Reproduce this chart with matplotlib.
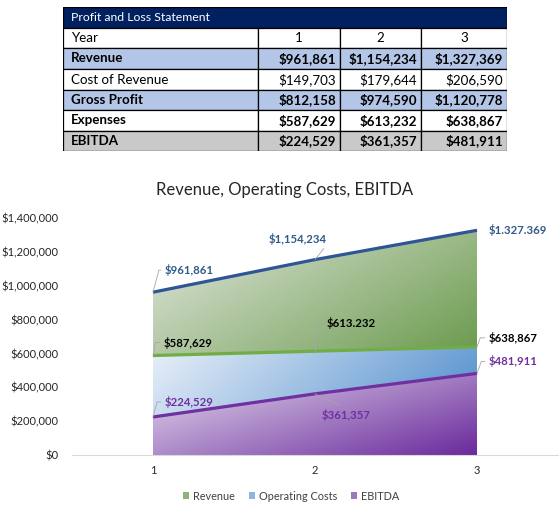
import numpy as np
import matplotlib
matplotlib.use("Agg")
import matplotlib.pyplot as plt
from matplotlib.patches import Rectangle, PathPatch, Patch
from matplotlib.colors import LinearSegmentedColormap
from matplotlib.ticker import FuncFormatter

plt.rcParams['font.family'] = ['Lato', 'DejaVu Sans']

# data
years = ["1", "2", "3"]
revenue = [961861, 1154234, 1327369]
cost_of_revenue = [149703, 179644, 206590]
gross_profit = [812158, 974590, 1120778]
expenses = [587629, 613232, 638867]
ebitda = [224529, 361357, 481911]

row_names = ["Revenue", "Cost of Revenue", "Gross Profit", "Expenses", "EBITDA"]
row_values = [revenue, cost_of_revenue, gross_profit, expenses, ebitda]
row_bold = [True, False, True, True, True]
row_fill = ["#b4c6e7", "white", "#b4c6e7", "white", "#c9c9c9"]

# labels as shown on the chart
rev_labels = ["$961,861", "$1,154,234", "$1.327.369"]
exp_labels = ["$587,629", "$613.232", "$638,867"]
ebitda_labels = ["$224,529", "$361,357", "$481,911"]

W, H = 559, 515
fig = plt.figure(figsize=(W / 100, H / 100), dpi=100)

# ---------- table ----------
tax = fig.add_axes([63 / W, (H - 151) / H, 444 / W, 144 / H])
tax.set_xlim(0, 444)
tax.set_ylim(144, 0)
tax.axis("off")
col_x = [0, 195, 277, 358, 444]
row_y = [0, 21, 41, 62, 83, 103, 124, 144]
fs = 9.6

tax.add_patch(Rectangle((0, 0), 444, 21, facecolor="#002060", edgecolor="black", lw=0.9))
tax.text(8, 10.5, "Profit and Loss Statement", color="white", fontsize=8.8, va="center")

def cell_row(r, texts, fill, bold):
    y0, y1 = row_y[r], row_y[r + 1]
    for c in range(4):
        x0, x1 = col_x[c], col_x[c + 1]
        tax.add_patch(Rectangle((x0, y0), x1 - x0, y1 - y0, facecolor=fill,
                                edgecolor="black", lw=0.9))
        if c == 0:
            tax.text(x0 + 8, (y0 + y1) / 2, texts[c], fontsize=fs, va="center",
                     fontweight="bold" if bold else "normal")
        else:
            tax.text(x1 - 4, (y0 + y1) / 2, texts[c], fontsize=fs, va="center", ha="right",
                     fontweight="bold" if bold else "normal")

# year row with centered numbers
y0, y1 = row_y[1], row_y[2]
for c in range(4):
    x0, x1 = col_x[c], col_x[c + 1]
    tax.add_patch(Rectangle((x0, y0), x1 - x0, y1 - y0, facecolor="white", edgecolor="black", lw=0.9))
tax.text(8, (y0 + y1) / 2, "Year", fontsize=fs, va="center")
for c, yr in enumerate(years):
    tax.text((col_x[c + 1] + col_x[c + 2]) / 2, (y0 + y1) / 2, yr, fontsize=fs, va="center", ha="center")

for i, name in enumerate(row_names):
    cell_row(i + 2, [name] + ["${:,}".format(v) for v in row_values[i]], row_fill[i], row_bold[i])

# ---------- chart ----------
ax = fig.add_axes([72 / W, (H - 455) / H, 486 / W, 237 / H])
x = np.arange(1, len(years) + 1)

def grad_fill(lower, upper, c0, c1, wx, z):
    poly = ax.fill_between(x, lower, upper, facecolor="none", edgecolor="none")
    patch = PathPatch(poly.get_paths()[0], transform=ax.transData, facecolor="none", edgecolor="none")
    ax.add_patch(patch)
    n = 200
    xx, yy = np.meshgrid(np.linspace(0, 1, n), np.linspace(0, 1, n))
    t = wx * xx + (1 - wx) * (1 - yy)
    cmap = LinearSegmentedColormap.from_list("g", [c0, c1])
    im = ax.imshow(t, cmap=cmap, origin="lower", aspect="auto", zorder=z,
                   extent=[x[0], x[-1], min(lower), max(upper)], interpolation="bilinear")
    im.set_clip_path(patch)

grad_fill(expenses, revenue, "#e2e7df", "#6a9a4c", 0.6, 1)
grad_fill(ebitda, expenses, "#e9f0f9", "#4f8dcc", 0.8, 1)
grad_fill([0, 0, 0], ebitda, "#e6ddef", "#6a2a9c", 0.55, 1)

ax.plot(x, revenue, color="#2f5597", lw=2.3, zorder=3, solid_capstyle="butt")
ax.plot(x, expenses, color="#70ad47", lw=2.3, zorder=3, solid_capstyle="butt")
ax.plot(x, ebitda, color="#7030a0", lw=2.3, zorder=3, solid_capstyle="butt")

ax.set_xlim(0.5, 3.5)
ax.set_ylim(0, 1400000)
ax.set_xticks(x)
ax.set_xticklabels(years)
ax.set_yticks(np.arange(0, 1400001, 200000))
ax.yaxis.set_major_formatter(FuncFormatter(lambda v, p: "${:,.0f}".format(v)))
ax.tick_params(length=0, labelsize=8, colors="#262626")
ax.tick_params(axis="y", pad=10)
ax.tick_params(axis="x", pad=7)
for s in ["top", "right", "left"]:
    ax.spines[s].set_visible(False)
ax.spines["bottom"].set_color("#d9d9d9")

# data labels (offsets in pixels)
lead = dict(arrowstyle="-", color="#a6a6a6", lw=0.6, shrinkA=1, shrinkB=0)

def label(i, yv, text, color, dx, dy, ha="left", conn=None, relpos=(0, 0.5)):
    kw = {}
    if conn is not None:
        kw["arrowprops"] = dict(lead, connectionstyle=conn, relpos=relpos)
    ax.annotate(text, (x[i], yv), xytext=(dx, dy), textcoords="offset pixels",
                ha=ha, va="center", fontsize=8.2, fontweight="bold", color=color,
                zorder=5, **kw)

blue_txt = "#2e5b88"
purple_txt = "#7030a0"
label(0, revenue[0], rev_labels[0], blue_txt, 12, 22, conn="angle,angleA=180,angleB=75,rad=0")
label(1, revenue[1], rev_labels[1], blue_txt, -17, 21, ha="center",
      conn="arc3,rad=0", relpos=(1, 0))
label(2, revenue[2], rev_labels[2], blue_txt, 12, 0)
label(0, expenses[0], exp_labels[0], "black", 11, 13, conn="angle,angleA=180,angleB=80,rad=0")
label(1, expenses[1], exp_labels[1], "black", 12, 28, conn="angle,angleA=180,angleB=90,rad=0")
label(2, expenses[2], exp_labels[2], "black", 12, 9, conn="angle,angleA=180,angleB=70,rad=0")
label(0, ebitda[0], ebitda_labels[0], purple_txt, 12, 15, conn="angle,angleA=180,angleB=75,rad=0")
label(1, ebitda[1], ebitda_labels[1], purple_txt, 7, -21, conn="arc3,rad=0", relpos=(0.5, 1))
label(2, ebitda[2], ebitda_labels[2], purple_txt, 12, 12, conn="angle,angleA=180,angleB=70,rad=0")

fig.text(285 / W, 1 - 190 / H, "Revenue, Operating Costs, EBITDA", ha="center", va="center",
         fontsize=12, color="#262626")

handles = [Patch(facecolor="#8fb17a", edgecolor="none", label="Revenue"),
           Patch(facecolor="#8db4e2", edgecolor="none", label="Operating Costs"),
           Patch(facecolor="#9a79c0", edgecolor="none", label="EBITDA")]
fig.legend(handles=handles, loc="center", bbox_to_anchor=(291 / W, 1 - 496 / H), ncol=3,
           frameon=False, fontsize=7.8, handlelength=0.55, handleheight=0.55,
           handletextpad=0.35, columnspacing=1.3, labelcolor="#404040")

fig.savefig("out.png", dpi=100)
